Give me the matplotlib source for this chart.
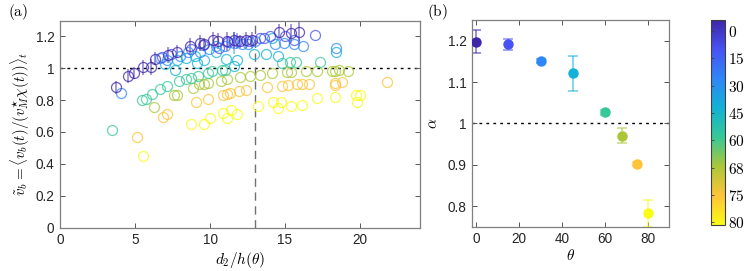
import numpy as np
import matplotlib
matplotlib.use("Agg")
import matplotlib.pyplot as plt
from matplotlib.colors import LinearSegmentedColormap, Normalize
from matplotlib.cm import ScalarMappable

plt.rcParams['font.family'] = ['Liberation Sans', 'DejaVu Sans']
plt.rcParams['mathtext.fontset'] = 'cm'

# ---------------- data ----------------
angles = [0, 15, 30, 45, 60, 68, 75, 80]

x0 = [3.7, 4.55, 4.95, 5.55, 6.05, 6.3, 7.2, 7.8, 8.65, 9.3, 9.6, 10.2, 10.5, 11.1, 11.6, 12.0, 12.4, 12.8, 14.6, 15.4, 15.9]
y0 = [0.88, 0.95, 0.97, 1.005, 1.01, 1.06, 1.085, 1.105, 1.14, 1.16, 1.15, 1.18, 1.17, 1.17, 1.18, 1.17, 1.18, 1.18, 1.23, 1.22, 1.23]
e0 = [0.04, 0.045, 0.04, 0.045, 0.05, 0.04, 0.05, 0.04, 0.05, 0.05, 0.04, 0.05, 0.05, 0.06, 0.05, 0.04, 0.05, 0.05, 0.05, 0.06, 0.06]

x15 = [6.8, 7.4, 8.7, 9.5, 10.6, 11.2, 11.8, 12.6, 13.3, 13.6, 14.0, 15.0, 15.6, 17.0]
y15 = [1.07, 1.09, 1.12, 1.145, 1.13, 1.165, 1.17, 1.17, 1.19, 1.19, 1.20, 1.20, 1.18, 1.21]
e15 = [0.0, 0.0, 0.0, 0.0, 0.0, 0.04, 0.05, 0.0, 0.0, 0.0, 0.0, 0.0, 0.0, 0.0]

x30 = [4.05, 6.65, 7.1, 8.0, 8.55, 9.3, 9.9, 10.4, 11.0, 11.6, 12.1, 12.5, 13.0, 14.3, 14.9, 15.6, 16.2, 18.4]
y30 = [0.845, 1.065, 1.05, 1.08, 1.10, 1.105, 1.12, 1.14, 1.14, 1.16, 1.155, 1.15, 1.17, 1.15, 1.16, 1.155, 1.14, 1.13]
e30 = [0.0, 0.0, 0.0, 0.0, 0.0, 0.0, 0.0, 0.0, 0.0, 0.07, 0.0, 0.0, 0.0, 0.0, 0.0, 0.0, 0.0, 0.0]

x45 = [7.0, 7.65, 7.8, 8.4, 9.0, 9.15, 9.6, 10.4, 11.05, 11.6, 11.8, 12.9, 13.7, 14.1, 14.5, 18.4]
y45 = [1.025, 0.99, 1.05, 1.065, 1.08, 1.03, 1.05, 1.105, 1.06, 1.015, 1.05, 1.09, 1.09, 1.19, 1.08, 1.10]

x60 = [3.44, 5.44, 5.75, 6.13, 6.67, 7.13, 7.93, 8.38, 8.75, 9.22, 9.89, 10.15, 10.8, 11.0, 14.8, 15.3, 15.7, 17.3]
y60 = [0.613, 0.80, 0.81, 0.84, 0.867, 0.887, 0.917, 0.93, 0.94, 0.95, 0.97, 0.98, 0.99, 0.99, 1.03, 1.04, 1.04, 1.04]

x68 = [6.29, 7.62, 7.78, 8.84, 9.29, 9.62, 9.89, 10.73, 11.1, 12.0, 12.67, 13.3, 14.1, 15.1, 15.4, 16.4, 17.1, 18.1, 18.3, 18.6, 19.2]
y68 = [0.755, 0.83, 0.833, 0.875, 0.90, 0.90, 0.905, 0.92, 0.93, 0.945, 0.95, 0.96, 0.97, 0.975, 0.975, 0.98, 0.985, 0.98, 0.985, 0.99, 0.985]

x75 = [5.13, 6.85, 7.13, 9.07, 9.89, 10.84, 11.1, 11.3, 11.9, 12.4, 13.8, 14.8, 15.2, 15.8, 16.1, 16.6, 18.3, 18.3, 18.8, 21.8]
y75 = [0.567, 0.697, 0.712, 0.787, 0.81, 0.833, 0.84, 0.842, 0.855, 0.865, 0.88, 0.89, 0.895, 0.90, 0.90, 0.90, 0.905, 0.895, 0.915, 0.915]

x80 = [5.56, 8.75, 9.62, 10.0, 10.84, 11.1, 11.4, 11.78, 13.2, 14.2, 14.5, 14.7, 15.4, 16.1, 17.1, 18.3, 19.7, 19.8, 20.0]
y80 = [0.45, 0.65, 0.647, 0.69, 0.72, 0.69, 0.74, 0.71, 0.765, 0.79, 0.75, 0.79, 0.76, 0.77, 0.815, 0.82, 0.83, 0.79, 0.83]

theta_b = [0, 15, 30, 45, 60, 68, 75, 80]
alpha_b = [1.197, 1.191, 1.151, 1.121, 1.027, 0.970, 0.901, 0.782]
alpha_err = [0.028, 0.013, 0.005, 0.042, 0.006, 0.018, 0.005, 0.032]

# parula-like colormap
parula_anchors = [(0.2422, 0.1504, 0.6603), (0.2810, 0.3228, 0.9579), (0.1786, 0.5289, 0.9682),
                  (0.0689, 0.6948, 0.8394), (0.2161, 0.7843, 0.5923), (0.6720, 0.7793, 0.2227),
                  (0.9970, 0.7659, 0.2199), (0.9769, 0.9839, 0.0805)]
parula = LinearSegmentedColormap.from_list('parula', parula_anchors)
colors = parula_anchors

W, H = 747, 271
fig = plt.figure(figsize=(W / 100, H / 100), dpi=100)

spine_col = '#7f7f7f'
tick_fs = 9.8

def style(ax):
    for s in ax.spines.values():
        s.set_color(spine_col)
        s.set_linewidth(0.9)
    ax.tick_params(direction='in', top=True, right=True, length=3.5, width=0.7,
                   color='#555555', labelsize=tick_fs, labelcolor='#262626', pad=4)

# ---------------- panel (a) ----------------
axa = fig.add_axes([60 / W, 1 - 227.5 / H, 360 / W, 207 / H])
series = [(x0, y0, e0), (x15, y15, e15), (x30, y30, e30), (x45, y45, None),
          (x60, y60, None), (x68, y68, None), (x75, y75, None), (x80, y80, None)]
axa.axhline(1.0, color='k', ls=(0, (2, 3)), lw=1.0, zorder=1)
axa.axvline(13.0, color='#707070', ls=(0, (6, 4)), lw=1.0, zorder=1)
for i in reversed(range(len(series))):
    xs, ys, es = series[i]
    c = colors[i]
    if es is not None:
        xe = [x for x, e in zip(xs, es) if e > 0]
        ye = [y for y, e in zip(ys, es) if e > 0]
        ee = [e for e in es if e > 0]
        axa.errorbar(xe, ye, yerr=ee, fmt='none', ecolor=c, alpha=0.5, elinewidth=1.3,
                     capsize=0, zorder=2)
    axa.plot(xs, ys, 'o', mfc='none', mec=c, mew=0.9, ms=7.2, alpha=0.75, zorder=3)
axa.set_xlim(0, 24)
axa.set_ylim(0, 1.3)
axa.set_xticks([0, 5, 10, 15, 20])
axa.set_yticks([0, 0.2, 0.4, 0.6, 0.8, 1.0, 1.2])
axa.set_yticklabels(['0', '0.2', '0.4', '0.6', '0.8', '1', '1.2'])
style(axa)
axa.set_xlabel(r'$d_2/h(\theta)$', fontsize=11, labelpad=2)
axa.set_ylabel(r'$\tilde{v}_b = \langle v_b(t)/(v_M^{\star}\chi(t))\rangle_t$', fontsize=10.8, labelpad=3)
fig.text(8 / W, 1 - 12 / H, r'$\mathrm{(a)}$', fontsize=11, va='center', ha='left')

# ---------------- panel (b) ----------------
axb = fig.add_axes([472 / W, 1 - 226.7 / H, 197 / W, 206.7 / H])
axb.axhline(1.0, color='k', ls=(0, (2, 3)), lw=1.0, zorder=1)
for i, (t, a, e) in enumerate(zip(theta_b, alpha_b, alpha_err)):
    axb.errorbar([t], [a], yerr=[e], fmt='none', ecolor=colors[i], alpha=0.6,
                 elinewidth=1.2, capsize=3.5, capthick=1.2, zorder=2)
    axb.plot([t], [a], 'o', color=colors[i], ms=6.5, zorder=3)
axb.set_xlim(-2, 90)
axb.set_ylim(0.75, 1.25)
axb.set_xticks([0, 20, 40, 60, 80])
axb.set_yticks([0.8, 0.9, 1.0, 1.1, 1.2])
axb.set_yticklabels(['0.8', '0.9', '1', '1.1', '1.2'])
style(axb)
axb.set_xlabel(r'$\theta$', fontsize=11, labelpad=1)
axb.set_ylabel(r'$\alpha$', fontsize=11, labelpad=5)
fig.text(427 / W, 1 - 12 / H, r'$\mathrm{(b)}$', fontsize=11, va='center', ha='left')

# ---------------- colorbar ----------------
cax = fig.add_axes([711 / W, 1 - 225 / H, 14 / W, 205 / H])
sm = ScalarMappable(norm=Normalize(-0.4, 7.1), cmap=parula)
cb = fig.colorbar(sm, cax=cax)
cb.set_ticks(range(len(angles)))
cb.set_ticklabels([rf'${a}$' for a in angles])
cax.invert_yaxis()
cb.outline.set_edgecolor('#404040')
cb.outline.set_linewidth(0.8)
cax.tick_params(direction='in', length=2.5, width=0.6, color='#404040', labelsize=11, pad=2,
                left=True, right=False)

fig.savefig('out.png', dpi=100)
